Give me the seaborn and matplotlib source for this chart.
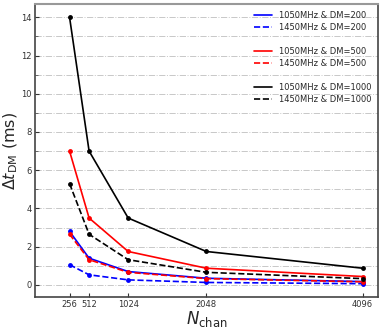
import numpy as np
import pandas as pd
import matplotlib
matplotlib.use('Agg')
import matplotlib.pyplot as plt
import seaborn as sns
from matplotlib.ticker import MultipleLocator

nchan = [256, 512, 1024, 2048, 4096]

dm200_1050 = [2.8, 1.4, 0.7, 0.35, 0.175]
dm200_1450 = [1.06, 0.53, 0.265, 0.13, 0.066]
dm500_1050 = [7.0, 3.5, 1.75, 0.875, 0.44]
dm500_1450 = [2.65, 1.32, 0.66, 0.33, 0.165]
dm1000_1050 = [14.0, 7.0, 3.5, 1.75, 0.875]
dm1000_1450 = [5.3, 2.65, 1.32, 0.66, 0.33]

labels = ['1050MHz & DM=200', '1450MHz & DM=200',
          '1050MHz & DM=500', '1450MHz & DM=500',
          '1050MHz & DM=1000', '1450MHz & DM=1000']
series = [dm200_1050, dm200_1450, dm500_1050, dm500_1450, dm1000_1050, dm1000_1450]
colors = ['blue', 'blue', 'red', 'red', 'black', 'black']
styles = ['-', '--', '-', '--', '-', '--']

sns.set_style('ticks')
plt.rcParams['font.family'] = ['DejaVu Sans']

fig, ax = plt.subplots(figsize=(3.82, 3.3), dpi=100)
fig.subplots_adjust(left=0.091, right=0.99, top=0.988, bottom=0.1)

handles = []
for i, (vals, lab, c, ls) in enumerate(zip(series, labels, colors, styles)):
    df = pd.DataFrame({'nchan': nchan, 'dt': vals})
    sns.lineplot(data=df, x='nchan', y='dt', color=c, linestyle=ls, marker='o',
                 markersize=3.5, markeredgewidth=0, linewidth=1.2, ax=ax)
    h, = ax.plot([], [], color=c, linestyle=ls, linewidth=1.2, label=lab)
    handles.append(h)
    if i % 2 == 1 and i < 5:
        e, = ax.plot([], [], color='none', label=' ')
        handles.append(e)

ax.legend(handles=handles, loc='upper right', frameon=False, fontsize=6,
          handlelength=2.2, handletextpad=0.8, labelspacing=0.36,
          borderaxespad=0.45)

ax.set_xlim(-200, 4300)
ax.set_xticks(nchan)
ax.set_xticklabels([str(n) for n in nchan])
ax.yaxis.set_major_locator(MultipleLocator(2))
ax.yaxis.set_minor_locator(MultipleLocator(1))
ax.grid(True, which='both', axis='y', linestyle='-.', color='#c8c8c8', linewidth=0.7)
ax.tick_params(direction='in', labelsize=6, colors='#333333', length=3, pad=2)
ax.tick_params(which='minor', direction='in', length=2, colors='#555555')
for s in ['left', 'bottom', 'right']:
    ax.spines[s].set_color('#444444')
    ax.spines[s].set_linewidth(1.2)
ax.spines['top'].set_color('#999999')
ax.spines['top'].set_linewidth(1.5)

ax.set_xlabel(r'$N_{\rm chan}$', fontsize=12, labelpad=0)
ax.set_ylabel(r'$\Delta t_{\rm DM}$ (ms)', fontsize=11.5, labelpad=1)

fig.savefig('out.png', dpi=100)
